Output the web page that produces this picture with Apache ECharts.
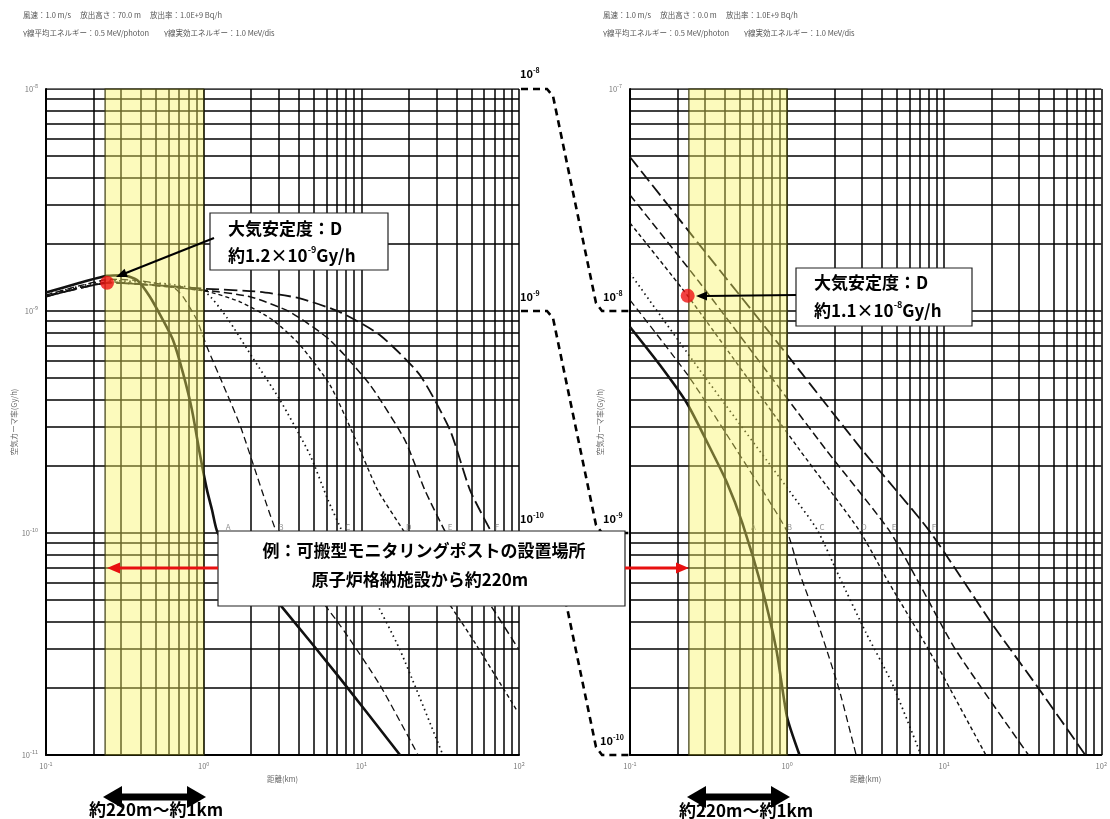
<!DOCTYPE html>
<html><head><meta charset="utf-8">
<script src="https://cdn.jsdelivr.net/npm/echarts@6/dist/echarts.min.js"></script>
<style>html,body{margin:0;padding:0;background:#fff}#c{width:1110px;height:819px}</style>
</head><body><div id="c"></div>
<script>
// ================= DATA =================
// distance (km) vs air kerma rate (Gy/h)
const stabilityClasses = ['A','B','C','D','E','F'];

// Left panel: release height 70.0 m
const left_A = [[0.1,1.21e-9],[0.164,1.34e-9],[0.244,1.44e-9],[0.308,1.45e-9],[0.378,1.38e-9],[0.456,1.16e-9],[0.552,9.10e-10],[0.639,7.40e-10],[0.739,5.26e-10],[0.843,3.58e-10],[0.948,2.25e-10],[1.05,1.56e-10],[1.13,1.27e-10],[1.23,1.0e-10],[1.70,7.71e-11],[3.18,4.59e-11],[7.31,2.22e-11],[17.6,1.0e-11]];
const left_B = [[0.1,1.18e-9],[0.164,1.30e-9],[0.255,1.39e-9],[0.394,1.37e-9],[0.639,1.28e-9],[0.739,1.16e-9],[0.906,9.10e-10],[1.05,6.89e-10],[1.33,4.65e-10],[1.70,3.06e-10],[2.12,1.92e-10],[2.45,1.41e-10],[2.92,1.0e-10],[4.08,6.67e-11],[7.31,3.85e-11],[13.1,2.07e-11],[22.9,1.0e-11]];
const left_C = [[0.1,1.18e-9],[0.255,1.37e-9],[0.611,1.32e-9],[1.02,1.22e-9],[1.41,9.29e-10],[2.05,6.14e-10],[3.05,3.97e-10],[4.72,2.25e-10],[6.14,1.41e-10],[7.64,1.0e-10],[11.35,5.53e-11],[17.6,2.97e-11],[32.9,1.0e-11]];
const left_D = [[0.1,1.17e-9],[0.255,1.35e-9],[1.02,1.23e-9],[1.70,1.10e-9],[2.75,9.10e-10],[4.08,7.03e-10],[6.32,4.65e-10],[9.10,2.68e-10],[12.7,1.56e-10],[18.9,1.0e-10],[27.2,6.47e-11],[48.9,3.47e-11],[98.4,1.56e-11]];
const left_E = [[0.1,1.16e-9],[0.255,1.34e-9],[1.02,1.24e-9],[1.97,1.16e-9],[3.53,9.89e-10],[6.32,7.40e-10],[11.35,4.65e-10],[18.9,2.62e-10],[25.3,1.56e-10],[34.4,1.0e-10],[48.9,6.47e-11],[70.3,4.41e-11],[98.4,3.03e-11]];
const left_F = [[0.1,1.16e-9],[0.255,1.34e-9],[1.02,1.26e-9],[2.28,1.22e-9],[4.08,1.14e-9],[7.31,9.89e-10],[13.1,7.80e-10],[23.5,5.15e-10],[36.5,2.91e-10],[48.9,1.56e-10],[67.3,1.0e-10],[81.5,7.96e-11],[98.4,6.47e-11]];

// Right panel: release height 0.0 m
const right_A = [[0.1,8.47e-9],[0.155,5.71e-9],[0.230,3.85e-9],[0.321,2.44e-9],[0.412,1.70e-9],[0.521,1.10e-9],[0.697,5.53e-10],[0.855,2.97e-10],[1.00,1.48e-10],[1.20,1.0e-10]];
const right_B = [[0.1,1.12e-8],[0.233,5.15e-9],[0.476,2.37e-9],[0.99,1.03e-9],[1.20,6.61e-10],[1.60,3.77e-10],[2.15,1.96e-10],[2.75,1.0e-10]];
const right_C = [[0.1,1.48e-8],[0.278,5.42e-9],[1.06,1.51e-9],[1.56,1.03e-9],[2.15,6.34e-10],[3.18,3.55e-10],[4.65,2.11e-10],[7.11,1.0e-10]];
const right_D = [[0.1,2.49e-8],[0.233,1.17e-8],[1.20,2.37e-9],[2.87,1.03e-9],[4.45,5.96e-10],[7.98,2.97e-10],[18.4,1.0e-10]];
const right_E = [[0.1,3.33e-8],[0.278,1.34e-8],[1.77,2.37e-9],[4.45,1.03e-9],[6.90,5.96e-10],[11.85,2.97e-10],[34.4,1.0e-10]];
const right_F = [[0.1,4.94e-8],[0.278,1.98e-8],[0.893,7.03e-9],[3.0,2.37e-9],[7.98,1.03e-9],[20.0,3.93e-10],[39.8,2.0e-10],[79.1,1.0e-10]];

// curve-name label anchors (km, Gy/h)
const left_labelAt  = [[1.43,1.06e-10],[3.09,1.06e-10],[8.22,1.06e-10],[20.0,1.06e-10],[36.5,1.06e-10],[72.4,1.06e-10]];
const right_labelAt = [[0.611,1.06e-9],[1.035,1.06e-9],[1.67,1.06e-9],[3.09,1.06e-9],[4.79,1.06e-9],[8.59,1.06e-9]];

// highlighted points (stability D at about 220 m)
const left_point  = [0.244, 1.34e-9];
const right_point = [0.233, 1.17e-8];

// monitoring range band (km)
const bandRange = [0.237, 1.0];

// axis ranges
const xRange = [0.1, 100];
const leftYRange = [1e-11, 1e-8];
const rightYRange = [1e-10, 1e-7];

// texts
const leftHeader1 = '風速：1.0 m/s\u3000 放出高さ：70.0 m\u3000 放出率：1.0E+9 Bq/h';
const leftHeader2 = 'γ線平均エネルギー：0.5 MeV/photon\u3000\u3000γ線実効エネルギー：1.0 MeV/dis';
const rightHeader1 = '風速：1.0 m/s\u3000 放出高さ：0.0 m\u3000 放出率：1.0E+9 Bq/h';
const rightHeader2 = 'γ線平均エネルギー：0.5 MeV/photon\u3000\u3000γ線実効エネルギー：1.0 MeV/dis';
const xTitle = '距離(km)';
const yTitle = '空気カーマ率(Gy/h)';

// ================= CHART =================
const FONT = "'Noto Sans CJK JP', 'Noto Sans', sans-serif";
const leftCurves = [left_A,left_B,left_C,left_D,left_E,left_F];
const rightCurves = [right_A,right_B,right_C,right_D,right_E,right_F];
const curveStyles = [
  {type:'solid', width:2.6},
  {type:[7,4], width:1.3},
  {type:[1.5,3.5], width:1.7},
  {type:[4,3], width:1.4},
  {type:[8,4], width:1.5},
  {type:[13,5], width:1.8}
];

function decadeLines(lo, hi){
  const out=[];
  for(let e=lo;e<hi;e++) for(let m=1;m<=9;m++) out.push(m*Math.pow(10,e));
  out.push(Math.pow(10,hi));
  return out;
}
const gridX = decadeLines(-1, 2);
const gridYLeft = decadeLines(-11, -8);
const gridYRight = decadeLines(-10, -7);

const supRich = {
  b:{fontSize:7.5,color:'#777',fontFamily:FONT,lineHeight:11},
  s:{fontSize:5.5,color:'#777',fontFamily:FONT,verticalAlign:'top',lineHeight:11}
};
function supFmt(v){ const e=Math.round(Math.log10(v)); return '{b|10}{s|'+e+'}'; }

function xAxisCfg(gi){
  return {type:'log', logBase:10, min:xRange[0], max:xRange[1], gridIndex:gi,
    name:xTitle, nameLocation:'middle', nameGap:20,
    nameTextStyle:{fontSize:7.5,color:'#666',fontFamily:FONT},
    axisLine:{show:true,onZero:false,lineStyle:{color:'#000',width:2}},
    axisTick:{show:false}, splitLine:{show:false}, minorTick:{show:false},
    axisLabel:{formatter:supFmt, rich:supRich, margin:6}};
}
function yAxisCfg(gi, range, onlyTop){
  return {type:'log', logBase:10, min:range[0], max:range[1], gridIndex:gi,
    name:yTitle, nameLocation:'middle', nameRotate:90, nameGap:26,
    nameTextStyle:{fontSize:7.5,color:'#666',fontFamily:FONT},
    axisLine:{show:true,onZero:false,lineStyle:{color:'#000',width:2}},
    axisTick:{show:false}, splitLine:{show:false},
    axisLabel:{formatter:function(v){
      if(onlyTop && Math.abs(v-range[1])/range[1]>1e-6) return '';
      return supFmt(v);}, rich:supRich, margin:8}};
}

const series=[];
function addPanel(gi, curves, gridY, yRange, labelAt, point){
  // grid lines (drawn through the axes' scales)
  const segs=[];
  gridX.forEach(v=>segs.push({coords:[[v,yRange[0]],[v,yRange[1]]]}));
  gridY.forEach(v=>segs.push({coords:[[xRange[0],v],[xRange[1],v]]}));
  series.push({type:'lines', coordinateSystem:'cartesian2d', xAxisIndex:gi, yAxisIndex:gi,
    data:segs, z:1, silent:true, animation:false, polyline:false,
    lineStyle:{color:'#000', width:1.5, opacity:1, curveness:0}});
  // curves
  curves.forEach((d,i)=>{
    series.push({type:'line', name:stabilityClasses[i], xAxisIndex:gi, yAxisIndex:gi, data:d,
      showSymbol:false, smooth:0.2, z:3, silent:true, animation:false,
      lineStyle:{color:'#111', width:curveStyles[i].width, type:curveStyles[i].type}});
  });
  // class labels
  series.push({type:'scatter', xAxisIndex:gi, yAxisIndex:gi, symbolSize:0, z:4, silent:true, animation:false,
    data:labelAt.map((p,i)=>[p[0],p[1],stabilityClasses[i]]),
    label:{show:true, position:'inside', formatter:p=>p.data[2], fontSize:8, color:'#777', fontFamily:FONT}});
  // yellow band overlay
  series.push({type:'line', xAxisIndex:gi, yAxisIndex:gi, data:[[1,yRange[1]]], showSymbol:false,
    lineStyle:{opacity:0}, silent:true, z:10,
    markArea:{z:10, silent:true, animation:false,
      itemStyle:{color:'rgba(248,242,95,0.42)', borderColor:'#3a3a10', borderWidth:1.2},
      data:[[{xAxis:bandRange[0]},{xAxis:bandRange[1]}]]}});
  // red point
  series.push({type:'scatter', xAxisIndex:gi, yAxisIndex:gi, data:[point], symbolSize:14, z:12,
    silent:true, animation:false, itemStyle:{color:'#ee1111'}});
}
addPanel(0, leftCurves, gridYLeft, leftYRange, left_labelAt, left_point);
addPanel(1, rightCurves, gridYRight, rightYRange, right_labelAt, right_point);

// ================= ANNOTATIONS =================
const G=[];
function text(x,y,t,size,opt){
  opt=opt||{};
  const st={text:t, x:0, y:0, fill:opt.color||'#000', fontSize:size, fontWeight:opt.weight||'normal',
    fontFamily:FONT, align:opt.align||'left', verticalAlign:'middle',
    textAlign:opt.align||'left', textVerticalAlign:'middle'};
  if(opt.rich) st.rich=opt.rich;
  G.push({type:'text', x:x, y:y, z:100, silent:true, style:st});
}
function arrow(x1,y1,x2,y2,color,w,hl,hw){
  const dx=x2-x1, dy=y2-y1, L=Math.hypot(dx,dy), ux=dx/L, uy=dy/L;
  const bx=x2-ux*hl, by=y2-uy*hl, px=-uy, py=ux;
  G.push({type:'line', z:100, silent:true, shape:{x1:x1,y1:y1,x2:bx+ux*1,y2:by+uy*1}, style:{stroke:color,lineWidth:w}});
  G.push({type:'polygon', z:100, silent:true, shape:{points:[[x2,y2],[bx+px*hw,by+py*hw],[bx-px*hw,by-py*hw]]}, style:{fill:color}});
}
function dblArrow(x1,x2,y,w,hl,hw){
  G.push({type:'line', z:100, silent:true, shape:{x1:x1+hl-1,y1:y,x2:x2-hl+1,y2:y}, style:{stroke:'#000',lineWidth:w}});
  G.push({type:'polygon', z:100, silent:true, shape:{points:[[x1,y],[x1+hl,y-hw],[x1+hl,y+hw]]}, style:{fill:'#000'}});
  G.push({type:'polygon', z:100, silent:true, shape:{points:[[x2,y],[x2-hl,y-hw],[x2-hl,y+hw]]}, style:{fill:'#000'}});
}
function box(x,y,w,h){
  G.push({type:'rect', z:99, silent:true, shape:{x:x,y:y,width:w,height:h}, style:{fill:'#fff', stroke:'#222', lineWidth:1.2}});
}
const bigRich = {
  n:{fontSize:17,fontWeight:'bold',fontFamily:FONT,fill:'#000',color:'#000',lineHeight:22},
  s:{fontSize:9,fontWeight:'bold',fontFamily:FONT,fill:'#000',color:'#000',verticalAlign:'top',lineHeight:22}
};
const lblRich = {
  n:{fontSize:11,fontWeight:'bold',fontFamily:FONT,color:'#000',lineHeight:14},
  s:{fontSize:7,fontWeight:'bold',fontFamily:FONT,color:'#000',verticalAlign:'top',lineHeight:14}
};

// headers
text(23,15,leftHeader1,7.5,{color:'#555'});
text(23,33,leftHeader2,7.5,{color:'#555'});
text(603,15,rightHeader1,7.5,{color:'#555'});
text(603,33,rightHeader2,7.5,{color:'#555'});

// dashed connectors between scales
[0,222,444].forEach(off=>{
  G.push({type:'polyline', z:98, silent:true,
    shape:{points:[[521,89+off],[547,89+off],[553,96+off],[596,303+off],[602,311+off],[629,311+off]]},
    style:{stroke:'#000', lineWidth:2.6, lineDash:[7,5], fill:null}});
});
text(520,74,'{n|10}{s|-8}',11,{rich:lblRich});
text(520,297,'{n|10}{s|-9}',11,{rich:lblRich});
text(520,519,'{n|10}{s|-10}',11,{rich:lblRich});
text(603,297,'{n|10}{s|-8}',11,{rich:lblRich});
text(603,519,'{n|10}{s|-9}',11,{rich:lblRich});
text(600,741,'{n|10}{s|-10}',11,{rich:lblRich});

// left callout
box(210,213,178,57);
text(228,229,'{n|大気安定度：D}',17,{rich:bigRich});
text(228,256,'{n|約1.2×10}{s|-9}{n|Gy/h}',17,{rich:bigRich});
arrow(214,238,116,277,'#000',2,11,4.5);

// right callout
box(796,268,176,58);
text(814,283,'{n|大気安定度：D}',17,{rich:bigRich});
text(814,311,'{n|約1.1×10}{s|-8}{n|Gy/h}',17,{rich:bigRich});
arrow(796,295,696,296,'#000',2,11,4.5);

// centre example box
box(218,531,407,75);
text(424,551,'{n|例：可搬型モニタリングポストの設置場所}',17,{rich:bigRich, align:'center'});
text(420,580,'{n|原子炉格納施設から約220m}',17,{rich:bigRich, align:'center'});
arrow(218,568,107,568,'#e81010',2.8,13,5.5);
arrow(625,568,689,568,'#e81010',2.8,13,5.5);

// range arrows
dblArrow(103,206,797,7,19,11);
dblArrow(687,790,797,7,19,11);
text(156,810,'{n|約220m～約1km}',17,{rich:bigRich, align:'center'});
text(746,811,'{n|約220m～約1km}',17,{rich:bigRich, align:'center'});

const option = {
  animation:false,
  backgroundColor:'#fff',
  textStyle:{fontFamily:FONT},
  grid:[{left:46, top:89, width:473, height:666},{left:630, top:89, width:473, height:666}],
  xAxis:[xAxisCfg(0), xAxisCfg(1)],
  yAxis:[yAxisCfg(0,leftYRange,false), yAxisCfg(1,rightYRange,true)],
  series:series,
  graphic:{elements:G}
};
const chart = echarts.init(document.getElementById('c'), null, {width:1110, height:819});
chart.setOption(option);
</script>
</body></html>
